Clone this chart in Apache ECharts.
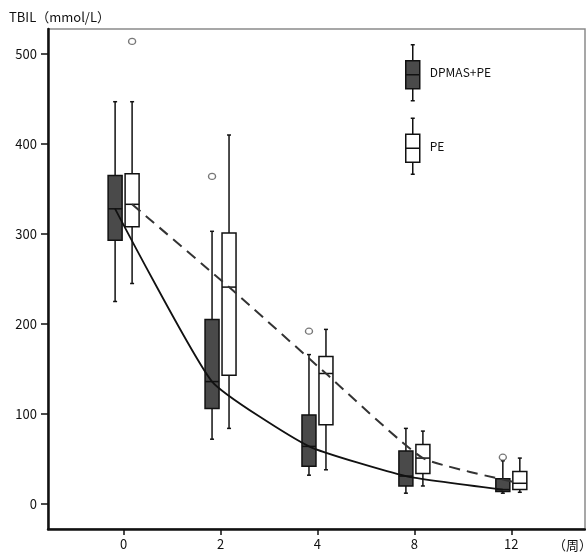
<!DOCTYPE html>
<html>
<head>
<meta charset="utf-8">
<script src="https://cdn.jsdelivr.net/npm/echarts@6/dist/echarts.min.js"></script>
<style>
  html, body { margin: 0; padding: 0; background: #fff; }
  #chart { width: 586px; height: 553px; }
</style>
</head>
<body>
<div id="chart"></div>
<script>
// weeks after treatment
var weeks = ['0', '2', '4', '8', '12']
var yTicks = [0, 100, 200, 300, 400, 500]

// [min, Q1, median, Q3, max]
var dpmasBox = [
  [225, 293, 328, 365, 447],
  [72, 106, 136, 205, 303],
  [32, 42, 64, 99, 166],
  [12, 20, 31, 59, 84],
  [12, 14, 16, 28, 48]
]
var peBox = [
  [245, 308, 333, 367, 447],
  [84, 143, 241, 301, 410],
  [38, 88, 145, 164, 194],
  [20, 34, 51, 66, 81],
  [13, 16, 23, 36, 51]
]
// [week index, value]
var dpmasOutliers = [[1, 364], [2, 192], [4, 52]]
var peOutliers = [[0, 514]]

var font = '"Noto Sans CJK JP", "Noto Sans", sans-serif'
var xMin = -0.78
var xMax = 4.76
var shift = 8.5 / 97 // half distance between the paired boxes, in week units

var boxIcon = 'path://M7,0V16M5,0H9M0,16H14V44H0ZM0,30H14M7,44V56M5,56H9'

function renderBox (params, api) {
  var x = api.value(0)
  var lo = api.coord([x, api.value(1)])
  var q1 = api.coord([x, api.value(2)])
  var md = api.coord([x, api.value(3)])
  var q3 = api.coord([x, api.value(4)])
  var hi = api.coord([x, api.value(5)])
  var cx = md[0]
  var hw = 7
  var cw = 2
  var line = { stroke: '#111', lineWidth: 1.5 }
  return {
    type: 'group',
    children: [
      { type: 'line', shape: { x1: cx, y1: hi[1], x2: cx, y2: q3[1] }, style: line },
      { type: 'line', shape: { x1: cx - cw, y1: hi[1], x2: cx + cw, y2: hi[1] }, style: line },
      { type: 'line', shape: { x1: cx, y1: q1[1], x2: cx, y2: lo[1] }, style: line },
      { type: 'line', shape: { x1: cx - cw, y1: lo[1], x2: cx + cw, y2: lo[1] }, style: line },
      {
        type: 'rect',
        shape: { x: cx - hw, y: q3[1], width: hw * 2, height: q1[1] - q3[1] },
        style: { fill: api.visual('color'), stroke: '#111', lineWidth: 1.5 }
      },
      { type: 'line', shape: { x1: cx - hw, y1: md[1], x2: cx + hw, y2: md[1] }, style: line }
    ]
  }
}

function withIndex (rows) {
  return rows.map(function (r, i) { return [i].concat(r) })
}

function medians (rows) {
  return rows.map(function (r, i) { return [i, r[2]] })
}

var chart = echarts.init(document.getElementById('chart'))

chart.setOption({
  animation: false,
  title: {
    text: 'TBIL（mmol/L）',
    left: 4,
    top: 6,
    textStyle: { fontFamily: font, fontSize: 13, fontWeight: 'normal', color: '#111' }
  },
  legend: {
    orient: 'vertical',
    left: 400,
    top: 39,
    itemWidth: 14,
    itemHeight: 56,
    itemGap: 16,
    textStyle: { fontFamily: font, fontSize: 12, color: '#111', padding: [0, 0, 0, 5] },
    data: [
      { name: 'DPMAS+PE', icon: boxIcon, itemStyle: { color: '#4a4a4a', borderColor: '#111', borderWidth: 1.5 } },
      { name: 'PE', icon: boxIcon, itemStyle: { color: '#fff', borderColor: '#111', borderWidth: 1.5 } }
    ]
  },
  graphic: [
    {
      type: 'text',
      left: 553,
      top: 539,
      style: { text: '（周）', font: '13px ' + font, fill: '#111' }
    }
  ],
  grid: {
    left: 48,
    right: 1,
    top: 29,
    bottom: 24,
    show: true,
    borderColor: '#8a8a8a',
    borderWidth: 1.5
  },
  xAxis: [
    {
      type: 'value',
      min: xMin,
      max: xMax,
      splitLine: { show: false },
      axisLine: { onZero: false, lineStyle: { color: '#111', width: 2.5 } },
      axisTick: { length: 6, lineStyle: { color: '#111', width: 1.5 }, customValues: [0, 1, 2, 3, 4] },
      axisLabel: {
        customValues: [0, 1, 2, 3, 4],
        margin: 9,
        fontFamily: font,
        fontSize: 13,
        color: '#111',
        formatter: function (v) { return weeks[Math.round(v)] }
      }
    },
    { type: 'value', min: xMin + shift, max: xMax + shift, show: false },
    { type: 'value', min: xMin - shift, max: xMax - shift, show: false }
  ],
  yAxis: {
    type: 'value',
    min: -27.8,
    max: 527.8,
    splitLine: { show: false },
    axisLine: { show: true, onZero: false, lineStyle: { color: '#111', width: 2.5 } },
    axisTick: { show: true, length: 7, lineStyle: { color: '#111', width: 1.5 }, customValues: yTicks },
    axisLabel: { customValues: yTicks, margin: 11, fontFamily: font, fontSize: 13, color: '#111' }
  },
  series: [
    {
      name: 'DPMAS+PE',
      type: 'custom',
      xAxisIndex: 1,
      renderItem: renderBox,
      itemStyle: { color: '#4a4a4a' },
      encode: { x: 0, y: [1, 2, 3, 4, 5] },
      data: withIndex(dpmasBox),
      z: 2
    },
    {
      name: 'PE',
      type: 'custom',
      xAxisIndex: 2,
      renderItem: renderBox,
      itemStyle: { color: '#fff' },
      encode: { x: 0, y: [1, 2, 3, 4, 5] },
      data: withIndex(peBox),
      z: 2
    },
    {
      name: 'DPMAS+PE',
      type: 'line',
      xAxisIndex: 1,
      data: medians(dpmasBox),
      smooth: 0.15,
      showSymbol: false,
      lineStyle: { color: '#111', width: 1.8 },
      z: 3
    },
    {
      name: 'PE',
      type: 'line',
      xAxisIndex: 2,
      data: medians(peBox),
      smooth: 0.15,
      showSymbol: false,
      lineStyle: { color: '#333', width: 2, type: [11, 7] },
      z: 3
    },
    {
      name: 'DPMAS+PE',
      type: 'scatter',
      xAxisIndex: 1,
      data: dpmasOutliers,
      symbol: 'circle',
      symbolSize: [7, 6],
      itemStyle: { color: '#fff', borderColor: '#555', borderWidth: 1.3 },
      z: 4
    },
    {
      name: 'PE',
      type: 'scatter',
      xAxisIndex: 2,
      data: peOutliers,
      symbol: 'circle',
      symbolSize: [7, 6],
      itemStyle: { color: '#fff', borderColor: '#555', borderWidth: 1.3 },
      z: 4
    }
  ]
})
</script>
</body>
</html>
